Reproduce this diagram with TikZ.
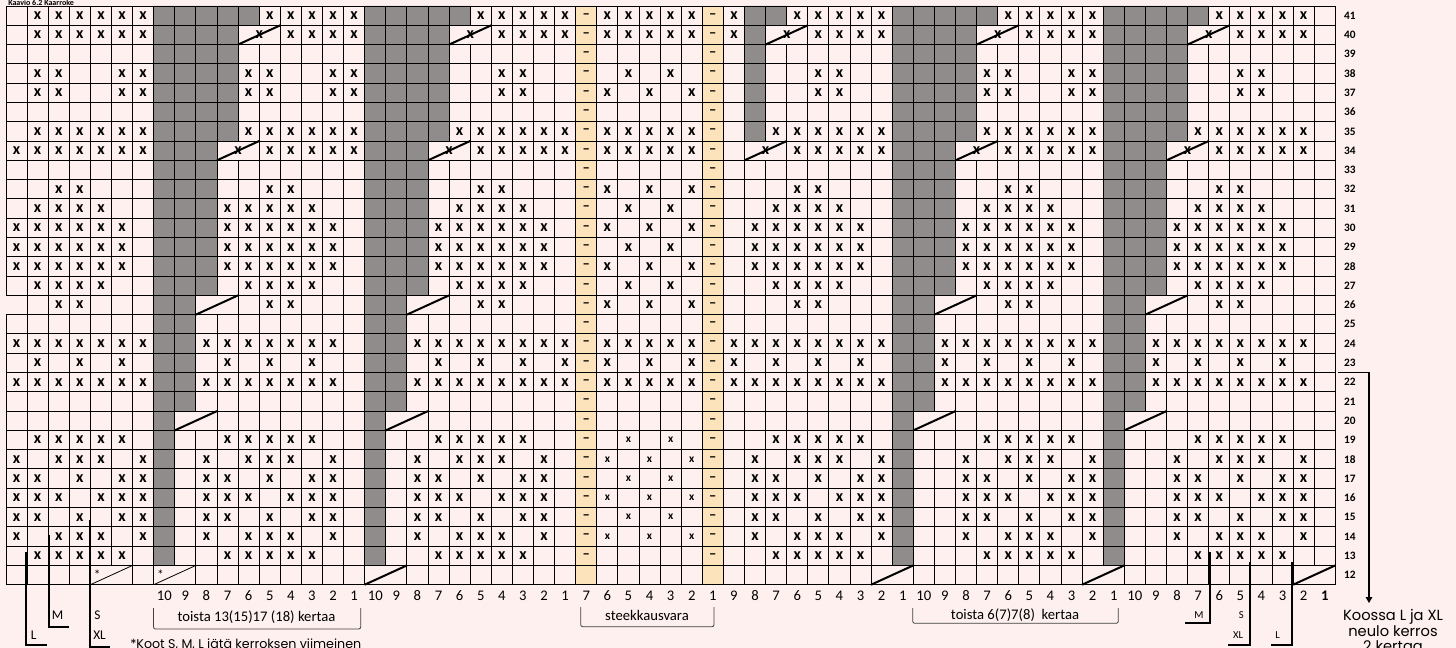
\documentclass[tikz,border=0pt]{standalone}
\usepackage{fontspec}
\setmainfont{Carlito}
\newfontfamily\popfont{Poppins}
\usetikzlibrary{arrows.meta}
\definecolor{chartbg}{HTML}{FDF0EE}
\definecolor{bandgray}{HTML}{918C8C}
\definecolor{steekbg}{HTML}{FCE3BB}
\tikzset{
  bigx/.style={font=\bfseries\fontsize{12}{12}\selectfont, inner sep=0pt},
  smallx/.style={font=\bfseries\fontsize{8.5}{10}\selectfont, inner sep=0pt},
  steekdash/.style={font=\bfseries\fontsize{11}{11}\selectfont, inner sep=0pt},
  collabel/.style={font=\fontsize{11}{13}\selectfont, inner sep=0pt},
  rowlabel/.style={font=\bfseries\fontsize{8.5}{10}\selectfont, inner sep=0pt, anchor=west},
  sizeline/.style={line width=1.5pt},
  sizelabel/.style={font=\fontsize{10}{12}\selectfont, inner sep=0pt},
  sizelabelsm/.style={font=\fontsize{8}{10}\selectfont, inner sep=0pt},
  repbrace/.style={black!75, line width=0.6pt, rounded corners=1.5pt},
  decline/.style={line width=1.5pt},
  thindec/.style={line width=0.6pt},
  notetext/.style={font=\popfont\fontsize{11}{13}\selectfont, inner sep=0pt, anchor=base},
}
\begin{document}
\begin{tikzpicture}[x=0.75pt,y=-0.75pt]
  \fill[chartbg] (0,0) rectangle (1456,648);
  \useasboundingbox (0,0) rectangle (1456,648);
  \node[font=\bfseries\fontsize{6}{7}\selectfont, anchor=base west, inner sep=0pt] (title) at (8,5.6) {Kaavio 6.2 Kaarroke};

  % chart, one unit = one stitch / one row
  \begin{scope}[shift={(6,6)},x=15.825pt,y=-14.4675pt]
    \fill[steekbg] (27,0) rectangle (28,30) (33,0) rectangle (34,30);
    % decrease bands
    \foreach \s in {7,17,42,52} {
      \fill[bandgray] (\s,21) rectangle (\s+1,29) (\s,15) rectangle (\s+2,21)
        (\s,7) rectangle (\s+3,15) (\s,1) rectangle (\s+4,7) (\s,0) rectangle (\s+5,1);
    }
    \fill[bandgray] (35,1) rectangle (36,7) (35,0) rectangle (37,1);
    % grid
    \foreach \c in {0,...,63} \draw[line width=0.7pt] (\c,0) -- (\c,30);
    \foreach \k in {0,...,30} \draw[line width=0.7pt] (0,\k) -- (63,\k);
    \draw[chartbg, line width=1.4pt] (0,15.03) -- (0,15.97);
    % merged decrease cells
    \foreach \r/\a in {12/4,12/7,12/17,12/41,12/51,12/61,20/8,20/18,20/43,20/53,26/9,26/19,26/44,26/54,
        34/10,34/20,34/35,34/45,34/55,40/11,40/21,40/36,40/46,40/56}
      \draw[chartbg, line width=1.2pt] (\a+1,41-\r+0.03) -- (\a+1,42-\r-0.03);
    \foreach \r/\a in {12/17,12/41,12/51,12/61,20/8,20/18,20/43,20/53,26/9,26/19,26/44,26/54,
        34/10,34/20,34/35,34/45,34/55,40/11,40/21,40/36,40/46,40/56}
      \draw[decline] (\a,42-\r) -- (\a+2,41-\r);
    \foreach \r/\a in {34/10,34/20,34/35,34/45,34/55,40/11,40/21,40/36,40/46,40/56}
      \node[bigx] (dx\r-\a) at (\a+1,41.5-\r) {x};
    % decreases for sizes S, M, L only
    \foreach \a in {4,7} {
      \draw[thindec] (\a,30) -- (\a+2,29);
      \node[font=\fontsize{10}{10}\selectfont, inner sep=0pt] (star\a) at (\a+0.32,29.5) {*};
    }
    % steek
    \foreach \r in {13,...,41} {
      \node[steekdash] (da\r) at (27.5,41.5-\r) {\textendash};
      \node[steekdash] (db\r) at (33.5,41.5-\r) {\textendash};
    }
    \foreach \r in {15,17,19}
      \foreach \c in {29,31} \node[smallx] (s\r-\c) at (\c+0.5,41.5-\r) {x};
    \foreach \r in {14,16,18}
      \foreach \c in {28,30,32} \node[smallx] (s\r-\c) at (\c+0.5,41.5-\r) {x};
    % pattern stitches
    \foreach \r/\cols in {
      41/{1,2,3,4,5,6,12,13,14,15,16,22,23,24,25,26,28,29,30,31,32,34,37,38,39,40,41,47,48,49,50,51,57,58,59,60,61},
      40/{1,2,3,4,5,6,13,14,15,16,23,24,25,26,28,29,30,31,32,34,38,39,40,41,48,49,50,51,58,59,60,61},
      38/{1,2,5,6,11,12,15,16,23,24,29,31,38,39,46,47,50,51,58,59},
      37/{1,2,5,6,11,12,15,16,23,24,28,30,32,38,39,46,47,50,51,58,59},
      35/{1,2,3,4,5,6,11,12,13,14,15,16,21,22,23,24,25,26,28,29,30,31,32,36,37,38,39,40,41,46,47,48,49,50,51,56,57,58,59,60,61},
      34/{0,1,2,3,4,5,6,12,13,14,15,16,22,23,24,25,26,28,29,30,31,32,37,38,39,40,41,47,48,49,50,51,57,58,59,60,61},
      32/{2,3,12,13,22,23,28,30,32,37,38,47,48,57,58},
      31/{1,2,3,4,10,11,12,13,14,21,22,23,24,29,31,36,37,38,39,46,47,48,49,56,57,58,59},
      30/{0,1,2,3,4,5,10,11,12,13,14,15,20,21,22,23,24,25,28,30,32,35,36,37,38,39,40,45,46,47,48,49,50,55,56,57,58,59,60},
      29/{0,1,2,3,4,5,10,11,12,13,14,15,20,21,22,23,24,25,29,31,35,36,37,38,39,40,45,46,47,48,49,50,55,56,57,58,59,60},
      28/{0,1,2,3,4,5,10,11,12,13,14,15,20,21,22,23,24,25,28,30,32,35,36,37,38,39,40,45,46,47,48,49,50,55,56,57,58,59,60},
      27/{1,2,3,4,11,12,13,14,21,22,23,24,29,31,36,37,38,39,46,47,48,49,56,57,58,59},
      26/{2,3,12,13,22,23,28,30,32,37,38,47,48,57,58},
      24/{0,1,2,3,4,5,6,9,10,11,12,13,14,15,19,20,21,22,23,24,25,26,28,29,30,31,32,34,35,36,37,38,39,40,41,44,45,46,47,48,49,50,51,54,55,56,57,58,59,60,61},
      23/{1,3,5,10,12,14,20,22,24,26,28,30,32,34,36,38,40,44,46,48,50,54,56,58,60},
      22/{0,1,2,3,4,5,6,9,10,11,12,13,14,15,19,20,21,22,23,24,25,26,28,29,30,31,32,34,35,36,37,38,39,40,41,44,45,46,47,48,49,50,51,54,55,56,57,58,59,60,61},
      19/{1,2,3,4,5,10,11,12,13,14,20,21,22,23,24,36,37,38,39,40,46,47,48,49,50,56,57,58,59,60},
      18/{0,2,3,4,6,9,11,12,13,15,19,21,22,23,25,35,37,38,39,41,45,47,48,49,51,55,57,58,59,61},
      17/{0,1,3,5,6,9,10,12,14,15,19,20,22,24,25,35,36,38,40,41,45,46,48,50,51,55,56,58,60,61},
      16/{0,1,2,4,5,6,9,10,11,13,14,15,19,20,21,23,24,25,35,36,37,39,40,41,45,46,47,49,50,51,55,56,57,59,60,61},
      15/{0,1,3,5,6,9,10,12,14,15,19,20,22,24,25,35,36,38,40,41,45,46,48,50,51,55,56,58,60,61},
      14/{0,2,3,4,6,9,11,12,13,15,19,21,22,23,25,35,37,38,39,41,45,47,48,49,51,55,57,58,59,61},
      13/{1,2,3,4,5,10,11,12,13,14,20,21,22,23,24,36,37,38,39,40,46,47,48,49,50,56,57,58,59,60}} {
      \foreach \c in \cols \node[bigx] (x\r-\c) at (\c+0.5,41.5-\r) {x};
    }
    % stitch and row numbers
    \foreach \s/\n in {7/10,17/10,27/7,34/9,43/10}
      \foreach \i in {1,...,\n} \node[collabel] (n\s-\i) at (\s+\n-\i+0.5,30.57) {\i};
    \foreach \i in {2,...,10} \node[collabel] (n53-\i) at (63-\i+0.5,30.57) {\i};
    \node[collabel, font=\bfseries\fontsize{11}{13}\selectfont] (n53-1) at (62.5,30.57) {1};
    \foreach \r in {12,...,41} \node[rowlabel] (r\r) at (63.4,41.5-\r) {\r};
  \end{scope}

  % repeats
  \draw[repbrace] (153.5,608) -- (153.5,629) -- (360.7,629) -- (360.7,608);
  \node[collabel] (repA) at (256.5,617) {toista 13(15)17 (18) kertaa};
  \draw[repbrace] (580.7,607) -- (580.7,626.7) -- (714,626.7) -- (714,607);
  \node[collabel] (steek) at (647,615) {steekkausvara};
  \draw[repbrace] (912.7,608) -- (912.7,623.3) -- (1118.3,623.3) -- (1118.3,608);
  \node[collabel] (repC) at (1015,615) {toista 6(7)7(8)\ \ kertaa};

  % size starts, left
  \draw[sizeline] (26,552) -- (26,645) -- (46.7,645);
  \node[sizelabel, anchor=west] (leftL) at (30.5,635) {L};
  \draw[sizeline] (48.7,535) -- (48.7,626.7) -- (69.3,626.7);
  \node[sizelabel, anchor=west] (leftM) at (51.5,615) {M};
  \draw[sizeline] (89.5,520) -- (89.5,646.5) -- (110,646.5);
  \node[sizelabel, anchor=west] (leftS) at (94,615) {S};
  \node[sizelabel, anchor=west] (leftXL) at (93,635) {XL};
  \node[font=\popfont\fontsize{9.5}{11}\selectfont, anchor=base west, inner sep=0pt] (starnote) at (130,648.5) {*Koot S, M, L jätä kerroksen viimeinen};

  % size starts, right
  \draw[sizeline] (1210,552) -- (1210,623) -- (1185,623);
  \node[sizelabelsm] (rightM) at (1199,615) {M};
  \draw[sizeline] (1250,562) -- (1250,645) -- (1228,645);
  \node[sizelabelsm] (rightS) at (1241.3,615) {S};
  \node[sizelabelsm] (rightXL) at (1238,635) {XL};
  \draw[sizeline] (1292.3,562) -- (1292.3,645) -- (1270.7,645);
  \node[sizelabelsm] (rightL) at (1277.5,635) {L};

  % note for L and XL
  \coordinate (arrstart) at (1338,372.5);
  \coordinate (arrcorner) at (1369,372.5);
  \coordinate (arrend) at (1369,603);
  \draw[line width=0.8pt, -{Triangle[width=5pt,length=4.5pt]}] (arrstart) -- (arrcorner) -- (arrend);
  \node[notetext] (note1) at (1393,620.7) {Koossa L ja XL};
  \node[notetext] (note2) at (1393,636) {neulo kerros};
  \node[notetext] (note3) at (1393,651.3) {2 kertaa};
\end{tikzpicture}
\end{document}
